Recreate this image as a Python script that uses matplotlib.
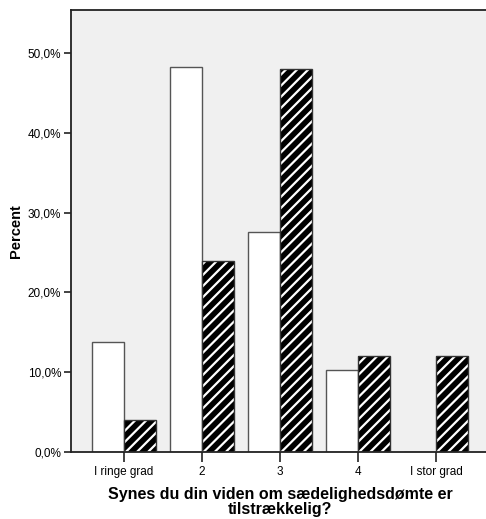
import matplotlib
matplotlib.use("Agg")
import matplotlib.pyplot as plt
import numpy as np

categories = ["I ringe grad", "2", "3", "4", "I stor grad"]
series_white = [13.8, 48.3, 27.6, 10.3, 0.0]
series_hatched = [4.0, 24.0, 48.0, 12.0, 12.0]
yticks = [0, 10, 20, 30, 40, 50]
ytick_labels = ["0,0%", "10,0%", "20,0%", "30,0%", "40,0%", "50,0%"]

plt.rcParams['font.family'] = ['Liberation Sans', 'DejaVu Sans']
plt.rcParams['hatch.linewidth'] = 1.6

fig = plt.figure(figsize=(4.86, 5.19), dpi=100)
ax = fig.add_axes([71/486, 1-452/519, 1-71/486, (452-10)/519])
ax.set_facecolor('#f0f0f0')

x = np.arange(len(categories))
w = 0.41
ax.bar(x - w/2, series_white, width=w, color='white', edgecolor='#555555', linewidth=1.0, zorder=2)
ax.bar(x + w/2, series_hatched, width=w, color='black', edgecolor='white', hatch='///', linewidth=0, zorder=2)
ax.bar(x + w/2, series_hatched, width=w, color='none', edgecolor='#333333', linewidth=1.0, zorder=3)

ax.set_xlim(-0.68, 4.64)
ax.set_ylim(0, 55.4)
ax.set_xticks(x)
ax.set_xticklabels(categories, fontsize=8.5)
ax.set_yticks(yticks)
ax.set_yticklabels(ytick_labels, fontsize=8.5)
ax.tick_params(axis='both', direction='out', length=5, width=1.2, color='#222222', pad=2)
ax.tick_params(axis='x', length=7, pad=3)

for s in ['left', 'top', 'bottom']:
    ax.spines[s].set_color('#222222')
    ax.spines[s].set_linewidth(1.3)
ax.spines['right'].set_visible(False)

ax.set_ylabel('Percent', fontsize=10.5, fontweight='bold', labelpad=3.5)
fig.text(280/486, 1-502/519, 'Synes du din viden om sædelighedsdømte er\ntilstrækkelig?',
         ha='center', va='center', fontsize=11.5, fontweight='bold', linespacing=1.05)

fig.savefig('out.png', dpi=100)
